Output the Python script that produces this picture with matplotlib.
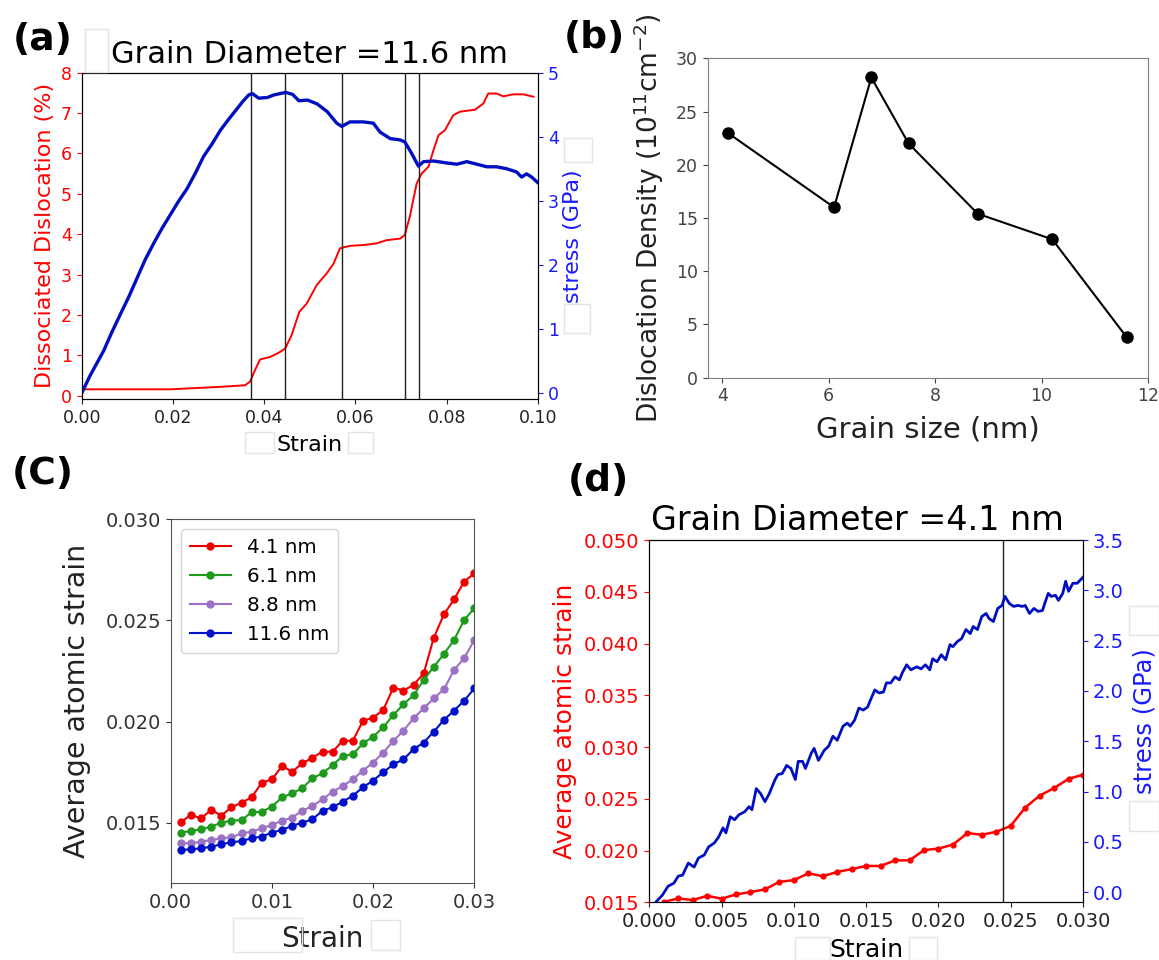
import matplotlib
matplotlib.use('Agg')
import matplotlib.pyplot as plt
from matplotlib.patches import Rectangle

# ---- (a) grain diameter 11.6 nm ----
strain_a_stress = [0.0, 0.0018, 0.0048, 0.0066, 0.0084, 0.0103, 0.0121, 0.0139, 0.0158, 0.0176,
                   0.0194, 0.0212, 0.0231, 0.0249, 0.0267, 0.0286, 0.0304, 0.0322, 0.0341, 0.0352,
                   0.0366, 0.0374, 0.0388, 0.0407, 0.0421, 0.0447, 0.0462, 0.0476, 0.0495, 0.0516,
                   0.0538, 0.0559, 0.0570, 0.0588, 0.0617, 0.0639, 0.0654, 0.0676, 0.0697, 0.0708,
                   0.0723, 0.0738, 0.0749, 0.0771, 0.0800, 0.0822, 0.0844, 0.0866, 0.0888, 0.0909,
                   0.0931, 0.0953, 0.0964, 0.0975, 0.0986, 0.1000]
stress_a = [0.0, 0.27, 0.66, 0.95, 1.22, 1.50, 1.79, 2.08, 2.34, 2.57,
            2.78, 2.99, 3.19, 3.43, 3.69, 3.89, 4.10, 4.27, 4.44, 4.54,
            4.65, 4.67, 4.60, 4.61, 4.65, 4.69, 4.66, 4.56, 4.57, 4.51,
            4.39, 4.21, 4.16, 4.23, 4.23, 4.21, 4.07, 3.97, 3.95, 3.92,
            3.74, 3.54, 3.61, 3.62, 3.59, 3.57, 3.61, 3.57, 3.53, 3.53,
            3.50, 3.45, 3.37, 3.42, 3.37, 3.28]
strain_a_disl = [0.0, 0.0194, 0.0303, 0.0358, 0.0369, 0.0380, 0.0391, 0.0413, 0.0431, 0.0446,
                 0.0460, 0.0477, 0.0493, 0.0515, 0.0537, 0.0552, 0.0566, 0.0588, 0.0617, 0.0646,
                 0.0668, 0.0698, 0.0708, 0.0719, 0.0734, 0.0745, 0.0760, 0.0771, 0.0782, 0.0796,
                 0.0814, 0.0829, 0.0862, 0.0880, 0.0891, 0.0909, 0.0924, 0.0946, 0.0968, 0.0990]
disl_a = [0.16, 0.16, 0.22, 0.26, 0.35, 0.64, 0.90, 0.96, 1.06, 1.17,
          1.50, 2.08, 2.28, 2.74, 3.03, 3.27, 3.65, 3.71, 3.73, 3.77,
          3.85, 3.89, 3.98, 4.43, 5.25, 5.50, 5.67, 6.08, 6.45, 6.57,
          6.94, 7.03, 7.08, 7.23, 7.48, 7.48, 7.41, 7.46, 7.46, 7.40]
events_a = [0.037, 0.0445, 0.057, 0.0708, 0.074]

# ---- (b) dislocation density vs grain size ----
grain_size = [4.1, 6.1, 6.8, 7.5, 8.8, 10.2, 11.6]
disl_density = [23.0, 16.0, 28.2, 22.0, 15.4, 13.0, 3.8]

# ---- (c) average atomic strain ----
strain_c = [0.001, 0.002, 0.003, 0.004, 0.005, 0.006, 0.007, 0.008, 0.009, 0.010,
            0.011, 0.012, 0.013, 0.014, 0.015, 0.016, 0.017, 0.018, 0.019, 0.020,
            0.021, 0.022, 0.023, 0.024, 0.025, 0.026, 0.027, 0.028, 0.029, 0.030]
atom_41 = [0.01503, 0.01538, 0.01521, 0.01563, 0.01535, 0.01576, 0.01599, 0.01625, 0.01698, 0.01714,
           0.01780, 0.01752, 0.01793, 0.01821, 0.01851, 0.01851, 0.01905, 0.01905, 0.02004, 0.02019,
           0.02057, 0.02168, 0.02153, 0.02181, 0.02238, 0.02415, 0.02530, 0.02604, 0.02692, 0.02733]
atom_61 = [0.01451, 0.01459, 0.01467, 0.01480, 0.01500, 0.01510, 0.01513, 0.01551, 0.01554, 0.01579,
           0.01625, 0.01645, 0.01670, 0.01719, 0.01744, 0.01784, 0.01830, 0.01838, 0.01892, 0.01925,
           0.01971, 0.02032, 0.02085, 0.02130, 0.02205, 0.02271, 0.02334, 0.02403, 0.02502, 0.02560]
atom_88 = [0.01398, 0.01398, 0.01406, 0.01414, 0.01423, 0.01427, 0.01447, 0.01455, 0.01472, 0.01488,
           0.01510, 0.01525, 0.01559, 0.01582, 0.01615, 0.01653, 0.01681, 0.01714, 0.01757, 0.01797,
           0.01846, 0.01904, 0.01955, 0.02016, 0.02065, 0.02115, 0.02159, 0.02255, 0.02313, 0.02403]
atom_116 = [0.01365, 0.01368, 0.01373, 0.01381, 0.01393, 0.01403, 0.01409, 0.01423, 0.01431, 0.01451,
            0.01464, 0.01484, 0.01500, 0.01516, 0.01559, 0.01576, 0.01604, 0.01633, 0.01675, 0.01708,
            0.01749, 0.01788, 0.01813, 0.01863, 0.01896, 0.01950, 0.02008, 0.02054, 0.02103, 0.02164]
labels_c = ['4.1 nm', '6.1 nm', '8.8 nm', '11.6 nm']
colors_c = ['#ee0000', '#1f9a1f', '#9b72c4', '#0010c8']

# ---- (d) grain diameter 4.1 nm, stress ----
strain_d = [0.0005, 0.0009, 0.0013, 0.0017, 0.0020, 0.0023, 0.0027, 0.0031, 0.0034, 0.0038,
            0.0041, 0.0045, 0.0048, 0.0051, 0.0053, 0.0056, 0.0059, 0.0062, 0.0066, 0.0069,
            0.0071, 0.0074, 0.0077, 0.0080, 0.0083, 0.0087, 0.0089, 0.0092, 0.0095, 0.0098,
            0.0101, 0.0103, 0.0106, 0.0108, 0.0112, 0.0114, 0.0117, 0.0121, 0.0124, 0.0127,
            0.0130, 0.0134, 0.0137, 0.0139, 0.0142, 0.0145, 0.0148, 0.0151, 0.0153, 0.0156,
            0.0159, 0.0162, 0.0164, 0.0167, 0.0170, 0.0173, 0.0175, 0.0178, 0.0181, 0.0185,
            0.0188, 0.0191, 0.0194, 0.0196, 0.0199, 0.0202, 0.0205, 0.0208, 0.0210, 0.0213,
            0.0216, 0.0219, 0.0222, 0.0224, 0.0227, 0.0230, 0.0233, 0.0235, 0.0238, 0.0241,
            0.0244, 0.0246, 0.0249, 0.0252, 0.0255, 0.0258, 0.0260, 0.0263, 0.0266, 0.0269,
            0.0272, 0.0274, 0.0276, 0.0278, 0.0281, 0.0283, 0.0286, 0.0288, 0.0290, 0.0293,
            0.0296, 0.0300]
stress_d = [-0.09, -0.03, 0.06, 0.09, 0.16, 0.17, 0.29, 0.25, 0.34, 0.37,
            0.45, 0.49, 0.55, 0.64, 0.59, 0.75, 0.72, 0.77, 0.80, 0.85,
            0.82, 1.03, 0.98, 0.90, 0.98, 1.12, 1.17, 1.18, 1.26, 1.23,
            1.12, 1.30, 1.30, 1.23, 1.38, 1.43, 1.31, 1.41, 1.45, 1.55,
            1.51, 1.65, 1.68, 1.65, 1.71, 1.83, 1.81, 1.84, 1.91, 2.01,
            1.98, 1.99, 2.08, 2.08, 2.14, 2.11, 2.18, 2.26, 2.21, 2.24,
            2.22, 2.26, 2.21, 2.32, 2.29, 2.36, 2.31, 2.46, 2.44, 2.49,
            2.52, 2.61, 2.57, 2.64, 2.61, 2.74, 2.77, 2.72, 2.69, 2.82,
            2.85, 2.94, 2.87, 2.84, 2.85, 2.84, 2.85, 2.77, 2.82, 2.79,
            2.80, 2.89, 2.97, 2.94, 2.95, 2.90, 2.97, 3.09, 2.99, 3.07,
            3.07, 3.13]
event_d = 0.0245

RED = '#ff0000'
BLUE_TXT = '#1a1aff'
BLUE_LINE = '#0010c0'

W, H = 1159, 960
fig = plt.figure(figsize=(W / 100, H / 100), dpi=100)


def px_axes(l, t, r, b):
    return fig.add_axes([l / W, 1 - b / H, (r - l) / W, (b - t) / H])


# ================= (a) =================
ax_a = px_axes(81.7, 72.5, 538, 399)
ax_a.plot(strain_a_disl, disl_a, color=RED, lw=1.4)
for ev in events_a:
    ax_a.axvline(ev, color='#222222', lw=1.0)
ax_a.set_xlim(0, 0.10)
ax_a.set_ylim(-0.08, 8)
ax_a.set_xticks([0.00, 0.02, 0.04, 0.06, 0.08, 0.10])
ax_a.set_xticklabels(['0.00', '0.02', '0.04', '0.06', '0.08', '0.10'])
ax_a.tick_params(axis='x', labelsize=12.5, colors='#222222')
ax_a.tick_params(axis='y', labelsize=12.5, colors=RED)
ax_a.set_ylabel('Dissociated Dislocation (%)', color=RED, fontsize=16, labelpad=4)
ax_a.set_xlabel('Strain', fontsize=16, labelpad=6)
ax_a.set_title('Grain Diameter =11.6 nm', fontsize=22, pad=7)
ax_a2 = ax_a.twinx()
ax_a2.plot(strain_a_stress, stress_a, color=BLUE_LINE, lw=2.4)
ax_a2.set_ylim(-0.09, 5)
ax_a2.set_yticks([0, 1, 2, 3, 4, 5])
ax_a2.tick_params(axis='y', labelsize=12.5, colors=BLUE_TXT)
ax_a2.set_ylabel('stress (GPa)', color=BLUE_TXT, fontsize=16, labelpad=3)

# ================= (b) =================
ax_b = px_axes(707.7, 58.3, 1148, 377.7)
ax_b.plot(grain_size, disl_density, color='black', lw=1.5, marker='o', ms=8)
ax_b.set_ylim(0, 30)
ax_b.set_xticks([4, 6, 8, 10, 12])
ax_b.set_xlim(3.725, 12.0)
ax_b.tick_params(labelsize=12.5, colors='#444444')
for sp in ax_b.spines.values():
    sp.set_color('#808080')
ax_b.set_xlabel('Grain size (nm)', fontsize=21, color='#222222', labelpad=7)
ax_b.set_ylabel(r'Dislocation Density ($10^{11}$cm$^{-2}$)', fontsize=19,
                color='#222222', labelpad=7)

# ================= (c) =================
ax_c = px_axes(170.7, 519.3, 474.3, 883.3)
for yv, lab, col in zip([atom_41, atom_61, atom_88, atom_116], labels_c, colors_c):
    ax_c.plot(strain_c, yv, color=col, lw=1.5, marker='o', ms=5, label=lab)
ax_c.set_xlim(0, 0.03)
ax_c.set_ylim(0.012, 0.030)
ax_c.set_xticks([0.00, 0.01, 0.02, 0.03])
ax_c.set_xticklabels(['0.00', '0.01', '0.02', '0.03'])
ax_c.set_yticks([0.015, 0.020, 0.025, 0.030])
ax_c.set_yticklabels(['0.015', '0.020', '0.025', '0.030'])
ax_c.tick_params(labelsize=14, colors='#333333')
for sp in ax_c.spines.values():
    sp.set_color('#555555')
ax_c.set_ylabel('Average atomic strain', fontsize=20.5, color='#222222', labelpad=10)
ax_c.set_xlabel('Strain', fontsize=20, color='#222222', labelpad=9)
ax_c.legend(loc='upper left', fontsize=14.3, handlelength=2.1, borderpad=0.45,
            labelspacing=0.5, handletextpad=0.8)

# ================= (d) =================
ax_d = px_axes(649.3, 540, 1083, 902.3)
ax_d.plot(strain_c, atom_41, color=RED, lw=1.8, marker='o', ms=3.5)
ax_d.axvline(event_d, color='#222222', lw=1.0)
ax_d.set_xlim(0, 0.03)
ax_d.set_ylim(0.015, 0.050)
ax_d.set_xticks([0.000, 0.005, 0.010, 0.015, 0.020, 0.025, 0.030])
ax_d.set_xticklabels(['0.000', '0.005', '0.010', '0.015', '0.020', '0.025', '0.030'])
ax_d.set_yticks([0.015, 0.020, 0.025, 0.030, 0.035, 0.040, 0.045, 0.050])
ax_d.set_yticklabels(['0.015', '0.020', '0.025', '0.030', '0.035', '0.040', '0.045', '0.050'])
ax_d.tick_params(axis='x', labelsize=14, colors='#222222')
ax_d.tick_params(axis='y', labelsize=14, colors=RED)
ax_d.set_ylabel('Average atomic strain', color=RED, fontsize=18, labelpad=5)
ax_d.set_xlabel('Strain', fontsize=18, labelpad=5)
ax_d.set_title('Grain Diameter =4.1 nm', fontsize=24, pad=7.5)
ax_d.title.set_x(0.479)
ax_d2 = ax_d.twinx()
ax_d2.plot(strain_d, stress_d, color=BLUE_LINE, lw=2.0)
ax_d2.set_ylim(-0.1, 3.5)
ax_d2.set_yticks([0.0, 0.5, 1.0, 1.5, 2.0, 2.5, 3.0, 3.5])
ax_d2.set_yticklabels(['0.0', '0.5', '1.0', '1.5', '2.0', '2.5', '3.0', '3.5'])
ax_d2.tick_params(axis='y', labelsize=14, colors=BLUE_TXT)
ax_d2.set_ylabel('stress (GPa)', color=BLUE_TXT, fontsize=17.5, labelpad=6)

# panel letters
for x0, y0, s in [(12.5, 21.7, '(a)'), (563.3, 20, '(b)'), (11.7, 456, '(C)'), (567.3, 463.3, '(d)')]:
    fig.text(x0 / W, 1 - y0 / H, s, fontsize=27, fontweight='bold', ha='left', va='top')

# faint leftover boxes in the original figure
boxes = [(84.6, 29.3, 108.2, 71.7), (244.6, 431.7, 274.3, 453.3), (348, 431.7, 373, 453.3),
         (564.3, 137.7, 592, 162.3), (564.3, 304.3, 590, 333.3),
         (232.7, 918.3, 301.7, 951.7), (370.7, 920, 400, 950),
         (795, 937.3, 830, 960), (909.3, 937.3, 937, 960),
         (1129, 605.7, 1159, 635), (1129, 800.7, 1159, 830.7)]
for l, t, r, b in boxes:
    fig.patches.append(Rectangle((l / W, 1 - b / H), (r - l) / W, (b - t) / H,
                                 transform=fig.transFigure, fill=False,
                                 edgecolor='#e4e4e4', lw=1.0, zorder=0))

fig.savefig('out.png', dpi=100)
